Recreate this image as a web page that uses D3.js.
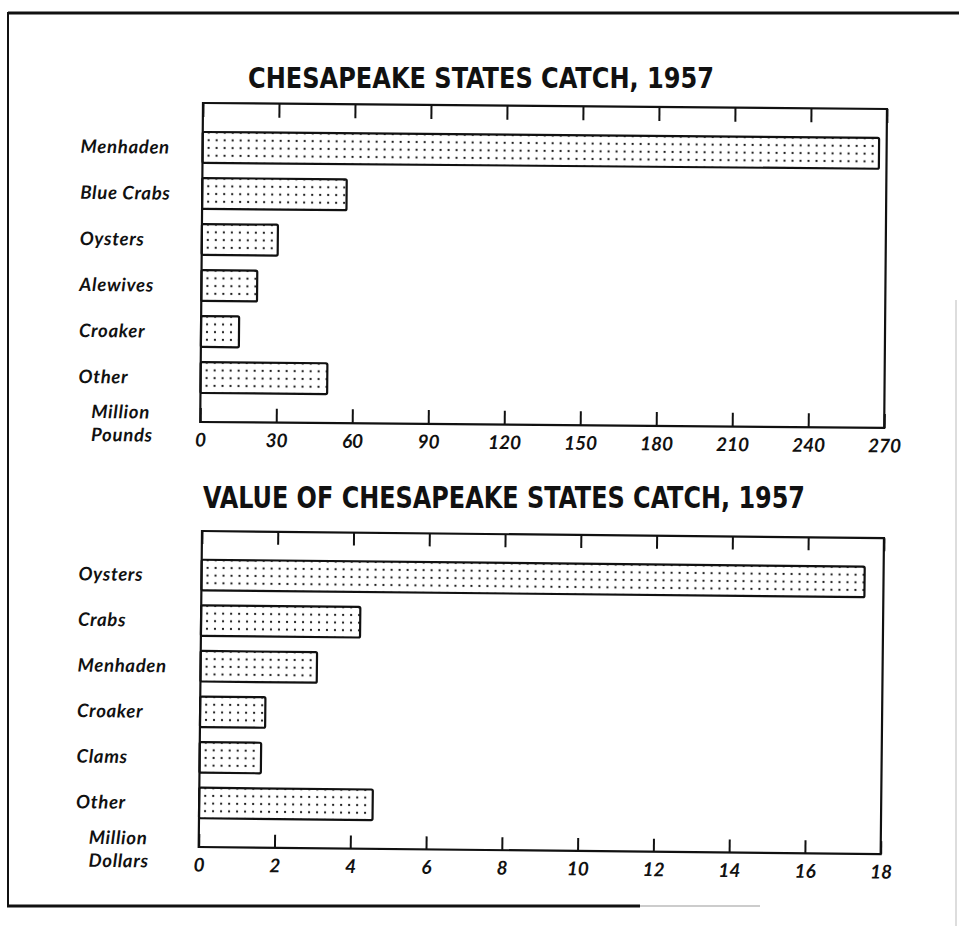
<!DOCTYPE html>
<html>
<head>
<meta charset="utf-8">
<script src="https://cdn.jsdelivr.net/npm/d3@7"></script>
<style>
  html, body { margin: 0; padding: 0; background: #fff; }
  svg { display: block; }
  .title { font-family: "DejaVu Sans Condensed", "DejaVu Sans", sans-serif; font-weight: bold; fill: #111; }
  .cat, .unit { font-family: Lato, "Open Sans", sans-serif; font-style: italic; font-weight: bold; fill: #111; letter-spacing: 0.7px; }
  .tick text { font-family: Lato, "Open Sans", sans-serif; font-style: italic; font-weight: bold; fill: #111; }
</style>
</head>
<body>
<svg width="959" height="926"></svg>
<script>
// catch by species, million pounds
var catchNames = ["Menhaden", "Blue Crabs", "Oysters", "Alewives", "Croaker", "Other"];
var catchPounds = [267, 57, 30, 22, 15, 50];
var poundTicks = [0, 30, 60, 90, 120, 150, 180, 210, 240, 270];

// value by species, million dollars
var valueNames = ["Oysters", "Crabs", "Menhaden", "Croaker", "Clams", "Other"];
var valueDollars = [17.5, 4.2, 3.07, 1.72, 1.62, 4.58];
var dollarTicks = [0, 2, 4, 6, 8, 10, 12, 14, 16, 18];

var svg = d3.select("svg");
var defs = svg.append("defs");

// scanned page border
var border = svg.append("g").attr("fill", "none").attr("stroke", "#111");
border.append("line").attr("x1", 8).attr("x2", 959).attr("y1", 13).attr("y2", 13).attr("stroke-width", 3);
border.append("line").attr("x1", 8).attr("x2", 8).attr("y1", 12).attr("y2", 907).attr("stroke-width", 2);
border.append("line").attr("x1", 7).attr("x2", 640).attr("y1", 906).attr("y2", 906).attr("stroke-width", 3);
border.append("line").attr("x1", 640).attr("x2", 760).attr("y1", 906).attr("y2", 906).attr("stroke-width", 1).attr("stroke", "#999");
border.append("line").attr("x1", 956).attr("x2", 956).attr("y1", 300).attr("y2", 926).attr("stroke-width", 1).attr("stroke", "#bbb");

var drawChart = function(opt) {
    var g = svg.append("g")
        .attr("transform", "rotate(" + opt.tilt + "," + opt.x0 + "," + opt.y0 + ")");

    var x = d3.scaleLinear().domain(opt.domain).range([opt.x0, opt.x1]);
    var y = d3.scaleBand().domain(opt.names).range([opt.y0, opt.y1])
        .paddingInner(0.33).paddingOuter(0.63);

    var rows = opt.names.map(function(n, i) { return {name: n, value: opt.values[i], i: i}; });

    // dotted fill, one pattern per bar so rows line up with the bar
    var step = y.bandwidth() / 4;
    var pats = defs.selectAll("pattern." + opt.id)
        .data(rows).enter().append("pattern")
        .attr("class", opt.id)
        .attr("id", function(d) { return opt.id + "-dots-" + d.i; })
        .attr("patternUnits", "userSpaceOnUse")
        .attr("x", x(0) + 2)
        .attr("y", function(d) { return y(d.name) + 0.5 + step / 2; })
        .attr("width", 8)
        .attr("height", step);
    pats.append("circle").attr("cx", 4).attr("cy", step / 2).attr("r", 1.1).attr("fill", "#111");

    g.selectAll("rect.bar")
        .data(rows).enter().append("rect")
        .attr("class", "bar")
        .attr("x", x(0))
        .attr("y", function(d) { return y(d.name); })
        .attr("width", function(d) { return x(d.value) - x(0); })
        .attr("height", y.bandwidth())
        .attr("rx", 1.5)
        .attr("fill", function(d) { return "url(#" + opt.id + "-dots-" + d.i + ")"; })
        .attr("stroke", "#111")
        .attr("stroke-width", 2.2);

    // frame
    g.append("rect")
        .attr("x", opt.x0).attr("y", opt.y0)
        .attr("width", opt.x1 - opt.x0).attr("height", opt.y1 - opt.y0)
        .attr("fill", "none").attr("stroke", "#111").attr("stroke-width", 2.2);

    var topAxis = d3.axisTop(x).tickValues(opt.ticks).tickSize(-opt.tickLen).tickSizeOuter(0).tickFormat("");
    var botAxis = d3.axisBottom(x).tickValues(opt.ticks).tickSize(-opt.tickLen).tickSizeOuter(0)
        .tickPadding(opt.labelPad).tickFormat(d3.format("d"));

    var ta = g.append("g").attr("transform", "translate(0," + opt.y0 + ")").call(topAxis);
    var ba = g.append("g").attr("transform", "translate(0," + opt.y1 + ")").call(botAxis);
    [ta, ba].forEach(function(a) {
        a.select(".domain").remove();
        a.selectAll(".tick line").attr("stroke", "#111").attr("stroke-width", 2);
    });
    ba.selectAll(".tick text").attr("font-size", 19).attr("font-family", null);

    g.selectAll("text.cat")
        .data(rows).enter().append("text")
        .attr("class", "cat")
        .attr("x", opt.labelX)
        .attr("y", function(d) { return y(d.name) + y.bandwidth() / 2; })
        .attr("dy", "0.35em")
        .attr("font-size", 18.5)
        .text(function(d) { return d.name; });

    g.selectAll("text.unit")
        .data(opt.unit).enter().append("text")
        .attr("class", "unit")
        .attr("x", opt.labelX + 13)
        .attr("y", function(d, i) { return opt.unitY + i * 23; })
        .attr("font-size", 18.5)
        .text(function(d) { return d; });

    svg.append("text")
        .attr("class", "title")
        .attr("x", opt.titleX).attr("y", opt.titleY)
        .attr("font-size", opt.titleSize)
        .attr("textLength", opt.titleW)
        .attr("lengthAdjust", "spacingAndGlyphs")
        .text(opt.title);
};

drawChart({
    id: "pounds", title: "CHESAPEAKE STATES CATCH, 1957",
    titleX: 248, titleY: 88, titleW: 466, titleSize: 29,
    names: catchNames, values: catchPounds, ticks: poundTicks,
    domain: [0, 270], x0: 203, x1: 887, y0: 103, y1: 422, tilt: 0.5,
    tickLen: 14, labelPad: 11, labelX: 81,
    unit: ["Million", "Pounds"], unitY: 419
});

drawChart({
    id: "dollars", title: "VALUE OF CHESAPEAKE STATES CATCH, 1957",
    titleX: 203, titleY: 508, titleW: 602, titleSize: 30,
    names: valueNames, values: valueDollars, ticks: dollarTicks,
    domain: [0, 18], x0: 202, x1: 884, y0: 531, y1: 847, tilt: 0.6,
    tickLen: 13, labelPad: 11, labelX: 79,
    unit: ["Million", "Dollars"], unitY: 845
});
</script>
</body>
</html>
